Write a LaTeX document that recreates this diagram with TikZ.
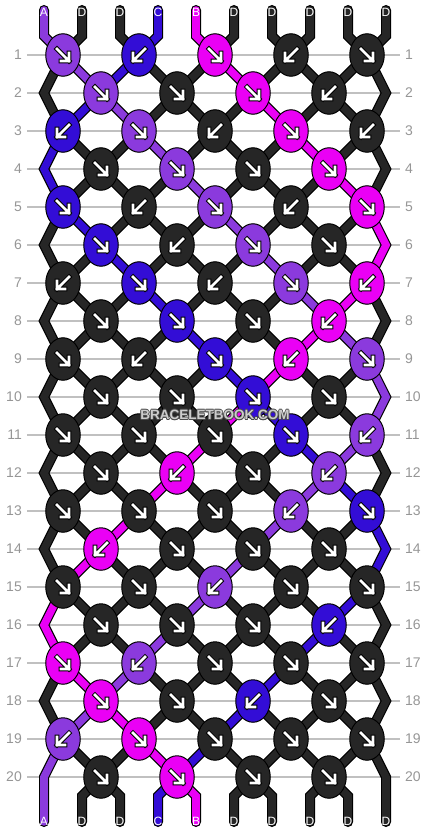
\documentclass[tikz,border=0pt]{standalone}
\usepackage{fontspec}
\setmainfont{Liberation Sans}
\usetikzlibrary{shapes.geometric,calc}
\definecolor{threadA}{RGB}{139,58,221}
\definecolor{threadB}{RGB}{234,0,245}
\definecolor{threadC}{RGB}{51,13,214}
\definecolor{threadD}{RGB}{38,38,38}
\definecolor{rulegray}{RGB}{192,192,192}
\definecolor{numgray}{RGB}{150,150,150}

\pgfdeclarelayer{back}
\pgfsetlayers{back,main}

\tikzset{
  knot/.style={ellipse, draw=black, line width=1pt, minimum width=34.5pt, minimum height=42.5pt, inner sep=0pt},
  thread/.style={line width=7.6pt, line cap=round, line join=miter,
    preaction={draw=black, line width=10pt, line cap=round, line join=miter}},
  dirR/.style={xscale=1},
  dirL/.style={xscale=-1},
  arrowout/.style={draw=black, line width=4.6pt, line cap=rect, line join=miter},
  arrowin/.style={draw=white, line width=2.6pt, line cap=rect, line join=miter},
  rownum/.style={text=numgray, font=\fontsize{14}{14}\selectfont, inner sep=0pt},
  rowline/.style={draw=rulegray, line width=1.5pt},
  endlabel/.style={text=white, font=\fontsize{12}{12}\selectfont, inner sep=0pt},
  wmark/.style={font=\bfseries\fontsize{13.5}{13.5}\selectfont, inner sep=0pt}
}

\begin{document}
\begin{tikzpicture}[x=1pt, y=-1pt]
    \useasboundingbox (0,0) rectangle (430,832);

    % row numbers and guide lines
    \foreach \r in {1,...,20} {
        \pgfmathsetmacro\y{55+38*(\r-1)}
        \node[rownum, anchor=east] (ln\r) at (22,\y) {\r};
        \node[rownum, anchor=west] (rn\r) at (405,\y) {\r};
        \begin{pgfonlayer}{back}
            \draw[rowline] ([xshift=5pt]ln\r.east) -- ([xshift=-5pt]rn\r.west);
        \end{pgfonlayer}
    }

    % edge turns
    \foreach \r in {2,4,...,20} {
        \coordinate (k\r-0) at (44,{55+38*(\r-1)});
        \coordinate (k\r-18) at (386,{55+38*(\r-1)});
    }

    % knots: colour / direction, row by row
    \foreach \r/\row in {
        1/{A/R,C/L,B/R,D/L,D/R},
        2/{A/R,D/R,B/R,D/L},
        3/{C/L,A/R,D/L,B/R,D/L},
        4/{D/R,A/R,D/R,B/R},
        5/{C/R,D/L,A/R,D/L,B/R},
        6/{C/R,D/L,A/R,D/R},
        7/{D/L,C/R,D/L,A/R,B/L},
        8/{D/R,C/R,D/R,B/L},
        9/{D/R,D/L,C/R,B/L,A/R},
        10/{D/R,D/R,C/R,D/R},
        11/{D/R,D/R,D/R,C/R,A/L},
        12/{D/R,B/L,D/R,A/L},
        13/{D/R,D/R,D/R,A/L,C/R},
        14/{B/L,D/R,D/R,D/R},
        15/{D/R,D/R,A/L,D/R,D/R},
        16/{D/R,D/R,D/R,C/L},
        17/{B/R,A/L,D/R,D/R,D/R},
        18/{B/R,D/R,C/L,D/R},
        19/{A/L,B/R,D/R,D/R,D/R},
        20/{D/R,B/R,D/R,D/R}} {
        \foreach \c/\d [count=\j] in \row {
            \pgfmathtruncatemacro\xi{isodd(\r) ? 4*\j-3 : 4*\j-1}
            \node[knot, fill=thread\c] (k\r-\xi) at ({44+19*\xi},{55+38*(\r-1)}) {};
            \draw[arrowout, shift={(k\r-\xi.center)}, dir\d] (-6,-6) -- (6,6) (-2,6) -- (6,6) -- (6,-2);
            \draw[arrowin, shift={(k\r-\xi.center)}, dir\d] (-6,-6) -- (6,6) (-2,6) -- (6,6) -- (6,-2);
        }
    }

    % threads
    \begin{pgfonlayer}{back}
    \foreach \s/\c/\pts in {
        1/A/{1,3,5,7,9,11,13,15,17,18,17,15,13,11,9,7,5,3,1,0},
        2/D/{1,0,1,3,5,7,9,11,13,15,17,18,17,15,13,11,9,7,5,3},
        3/D/{5,7,9,11,13,15,17,18,17,15,13,11,9,7,5,3,1,0,1,3},
        4/C/{5,3,1,0,1,3,5,7,9,11,13,15,17,18,17,15,13,11,9,7},
        5/B/{9,11,13,15,17,18,17,15,13,11,9,7,5,3,1,0,1,3,5,7},
        6/D/{9,7,5,3,1,0,1,3,5,7,9,11,13,15,17,18,17,15,13,11},
        7/D/{13,15,17,18,17,15,13,11,9,7,5,3,1,0,1,3,5,7,9,11},
        8/D/{13,11,9,7,5,3,1,0,1,3,5,7,9,11,13,15,17,18,17,15},
        9/D/{17,18,17,15,13,11,9,7,5,3,1,0,1,3,5,7,9,11,13,15},
        10/D/{17,15,13,11,9,7,5,3,1,0,1,3,5,7,9,11,13,15,17,18}} {
        \pgfmathsetmacro\x{44+38*(\s-1)}
        \draw[thread, draw=thread\c] (\x,10) -- (\x,36)
            \foreach \xi [count=\r] in \pts { -- (k\r-\xi.center) }
            -- (\x,796) -- (\x,822);
    }
    \end{pgfonlayer}

    % thread letters
    \foreach \s/\c in {1/A,2/D,3/D,4/C,5/B,6/D,7/D,8/D,9/D,10/D} {
        \node[endlabel] (top\s) at ({44+38*(\s-1)},12) {\c};
        \node[endlabel] (bot\s) at ({44+38*(\s-1)},821) {\c};
    }

    % watermark
    \foreach \dx/\dy in {-0.8/0,0.8/0,0/-0.8,0/0.8,-0.6/-0.6,0.6/0.6,-0.6/0.6,0.6/-0.6}
        \node[wmark, text=black!70] at ($(215,415)+(\dx,\dy)$) {BRACELETBOOK.COM};
    \node[wmark, text=black!20] (mark) at (215,415) {BRACELETBOOK.COM};
\end{tikzpicture}
\end{document}
